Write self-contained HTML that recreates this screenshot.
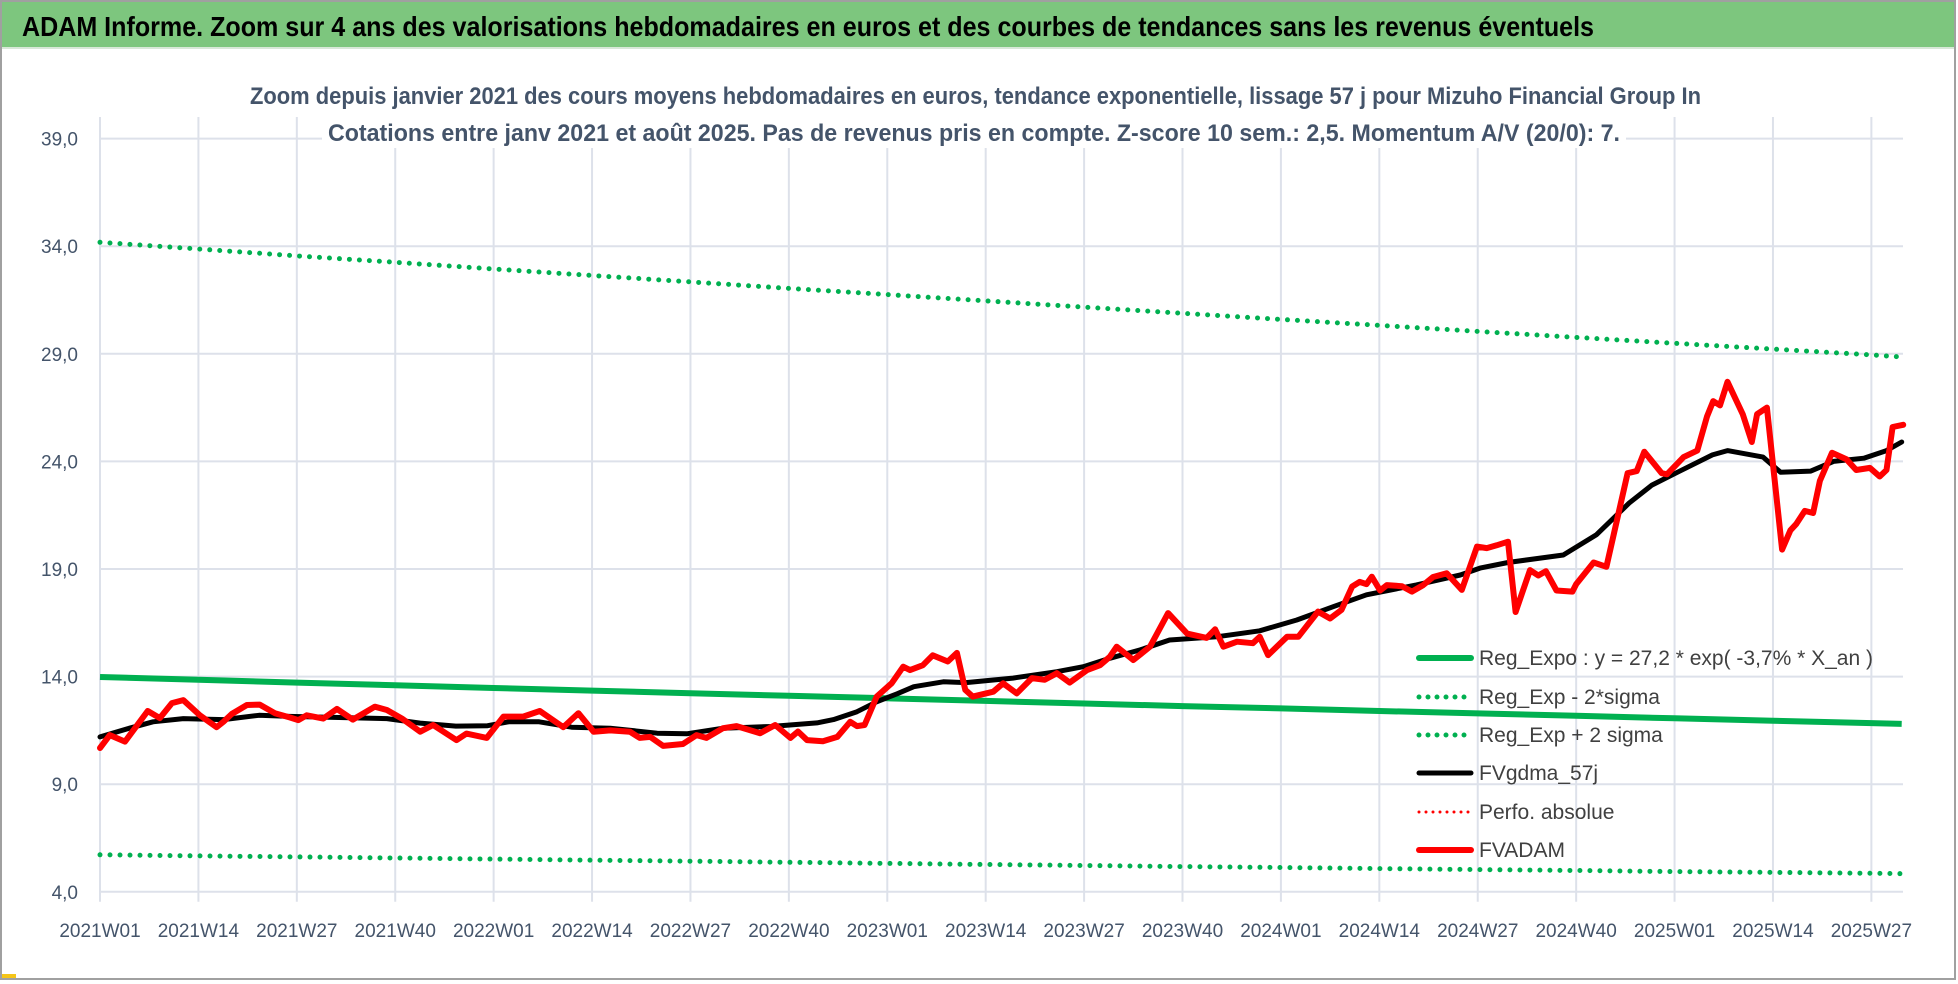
<!DOCTYPE html>
<html><head><meta charset="utf-8"><style>
html,body{margin:0;padding:0;background:#fff;}
svg{display:block;}
text{font-family:"Liberation Sans Narrow","Liberation Sans",sans-serif;}
</style></head><body>
<svg id="chart" width="1958" height="984" viewBox="0 0 1958 984" xmlns="http://www.w3.org/2000/svg">
<rect x="1" y="1" width="1954" height="978" fill="#fff" stroke="#a0a0a0" stroke-width="2"/>
<rect x="2" y="2" width="1952" height="45" fill="#7dc67e"/>
<line x1="2" y1="48" x2="1954" y2="48" stroke="#d8e8d8" stroke-width="2"/>
<text x="22" y="36" font-size="28" font-weight="bold" fill="#000" textLength="1572" lengthAdjust="spacingAndGlyphs">ADAM Informe. Zoom sur 4 ans des valorisations hebdomadaires en euros et des courbes de tendances sans les revenus éventuels</text>
<g id="grid"></g>
<rect x="245" y="78" width="1462" height="34" fill="#fff"/>
<rect x="322" y="114" width="1304" height="34" fill="#fff"/>
<text x="250" y="104" font-size="24" font-weight="bold" fill="#44546a" textLength="1451" lengthAdjust="spacingAndGlyphs">Zoom depuis janvier 2021 des cours moyens hebdomadaires en euros, tendance exponentielle, lissage 57 j pour Mizuho Financial Group In</text>
<text x="328" y="141" font-size="24" font-weight="bold" fill="#44546a" textLength="1292" lengthAdjust="spacingAndGlyphs">Cotations entre janv 2021 et août 2025. Pas de revenus pris en compte. Z-score 10 sem.: 2,5. Momentum A/V (20/0): 7.</text>
<g id="axes"></g>
<g id="series"></g>
<g id="legend"></g>
<rect x="2" y="974" width="14" height="4" fill="#f5c518"/>
</svg>
<script>
const yTicks = [4, 9, 14, 19, 24, 29, 34, 39];
const yTickLabels = ["4,0","9,0","14,0","19,0","24,0","29,0","34,0","39,0"];
const xTickWeeks = [0,13,26,39,52,65,78,91,104,117,130,143,156,169,182,195,208,221,234];
const xTickLabels = ["2021W01","2021W14","2021W27","2021W40","2022W01","2022W14","2022W27","2022W40","2023W01","2023W14","2023W27","2023W40","2024W01","2024W14","2024W27","2024W40","2025W01","2025W14","2025W27"];

const bandWeeks = [0,13,26,39,52,65,78,91,104,117,130,143,156,169,182,195,208,221,234,238];
const regExpo = [13.98,13.85,13.72,13.60,13.47,13.35,13.23,13.11,12.99,12.87,12.75,12.63,12.52,12.40,12.29,12.18,12.06,11.95,11.84,11.80];
const regUpper = [34.18,33.87,33.55,33.25,32.94,32.64,32.34,32.04,31.75,31.46,31.17,30.88,30.60,30.32,30.04,29.76,29.49,29.22,28.95,28.85];
const regLower = [5.72,5.67,5.62,5.57,5.52,5.47,5.42,5.37,5.32,5.27,5.22,5.17,5.13,5.08,5.03,4.99,4.94,4.90,4.86,4.84];

const priceWeeks = [0,1.3,3.3,6.3,7.9,9.5,11,13.2,15.4,16.3,17.4,19.4,21.1,23.1,25.1,26.2,27.3,29.5,31.3,33.4,36.3,37.9,39.9,42.3,44,47.1,48.4,51.1,53.3,55.9,58.1,61.2,63.2,65.2,67.4,70,71.3,72.7,74.4,77,78.8,80.1,82.3,84.1,87.2,89.2,91.2,92.2,93.4,95.5,97.4,99.1,100,101,102.6,104.6,106.1,107,108.7,110,112,113.2,114.3,115.3,118,119.3,121.1,123.1,124.8,126.4,128.1,130.4,132.1,133.4,134.3,136.5,138.7,141.1,143.6,146.2,147.3,148.4,150.2,152.3,153.2,154.3,156.8,158.3,160.9,162.5,164,165.4,166.4,167.3,168,169.1,170,172,173.3,174.8,176.1,177.9,179.9,181.9,183.2,184.5,186,187,188.9,190,191,192.4,194.5,195,197.3,199,201.8,203,204,206.3,207,209.2,211,212.3,213.1,214,215,217,218.2,218.9,220.2,222.2,223.3,224.1,225.2,226.3,227.2,228.8,230.7,232,233.8,235.1,236,236.8,238.2];
const priceValues = [10.68,11.28,10.98,12.4,12.07,12.77,12.91,12.2,11.65,11.9,12.26,12.68,12.7,12.3,12.1,11.98,12.2,12.05,12.5,12.0,12.6,12.45,12.05,11.44,11.75,11.05,11.35,11.15,12.14,12.14,12.4,11.65,12.3,11.44,11.5,11.44,11.15,11.2,10.78,10.87,11.28,11.15,11.6,11.7,11.37,11.75,11.15,11.45,11.05,11.0,11.2,11.9,11.7,11.75,13.07,13.7,14.46,14.3,14.53,14.99,14.7,15.1,13.38,13.07,13.3,13.69,13.22,13.93,13.85,14.16,13.72,14.3,14.53,14.92,15.39,14.77,15.39,16.95,16.0,15.8,16.2,15.39,15.62,15.55,15.85,15.0,15.85,15.85,17.02,16.7,17.1,18.18,18.4,18.3,18.64,18.0,18.25,18.2,17.95,18.25,18.63,18.8,18.03,20.04,19.97,20.1,20.27,17.0,18.95,18.7,18.9,18.0,17.95,18.3,19.3,19.1,23.45,23.55,24.45,23.45,23.4,24.2,24.5,26.1,26.8,26.6,27.7,26.2,24.9,26.2,26.5,19.9,20.8,21.1,21.7,21.6,23.1,24.4,24.1,23.6,23.7,23.3,23.6,25.6,25.7];

const maWeeks = [0,3.9,7,11,16.3,21,25,31.6,37.9,42.3,47,51.2,54,58,62.3,67.4,73.6,77.5,82.3,88.6,94.7,96.9,100,102.6,105.3,107.5,111.4,114.4,120.6,126.4,129.9,133.4,137.4,141.3,147.5,153.2,158.1,162.9,167.3,173.9,179.7,182.3,186,193.3,197.7,202,205,208.4,213,215,219.7,222,226,229,233,236,238];
const maValues = [11.2,11.6,11.9,12.05,12.0,12.2,12.15,12.1,12.05,11.84,11.7,11.72,11.9,11.9,11.65,11.6,11.37,11.34,11.6,11.68,11.85,12.0,12.37,12.83,13.2,13.53,13.76,13.72,13.93,14.23,14.46,14.85,15.24,15.7,15.85,16.13,16.63,17.25,17.8,18.26,18.72,19.04,19.3,19.65,20.6,22.06,22.9,23.5,24.3,24.5,24.2,23.5,23.55,24.0,24.15,24.5,24.9];

const legendLabels = ["Reg_Expo : y = 27,2 * exp( -3,7% *  X_an )","Reg_Exp - 2*sigma","Reg_Exp + 2 sigma","FVgdma_57j","Perfo. absolue","FVADAM"];

const NS = "http://www.w3.org/2000/svg";
const X0 = 100, PXW = 7.57, XR = 1903;
const YTOP = 138.6, PXV = 21.52;
function xs(w){ return X0 + w*PXW; }
function ys(v){ return YTOP + (39 - v)*PXV; }
function mk(tag, attrs, parent){
  const e = document.createElementNS(NS, tag);
  for (const k in attrs) e.setAttribute(k, attrs[k]);
  parent.appendChild(e);
  return e;
}
const grid = document.getElementById('grid');
const axes = document.getElementById('axes');
const series = document.getElementById('series');
const legend = document.getElementById('legend');

yTicks.forEach((t,i)=>{
  const l = mk('line',{x1:X0,x2:XR,y1:ys(t),y2:ys(t),stroke:'#dde1ea','stroke-width':2},grid);
  
  
  const tx = mk('text',{x:X0-22,y:ys(t)+7,'font-size':19,'text-anchor':'end',fill:'#44546a'},axes);
  tx.textContent = yTickLabels[i];
  
  
});
xTickWeeks.forEach((w,i)=>{
  const l = mk('line',{x1:xs(w),x2:xs(w),y1:117,y2:ys(4)+10,stroke:'#dde1ea','stroke-width':2},grid);
  
  
  const tx = mk('text',{x:xs(w),y:937,'font-size':19,'text-anchor':'middle',fill:'#44546a'},axes);
  tx.textContent = xTickLabels[i];
  
  
});

function path(ws, vs){
  return ws.map((w,i)=>(i?'L':'M')+xs(w).toFixed(1)+' '+ys(vs[i]).toFixed(1)).join(' ');
}
const pU = mk('path',{d:path(bandWeeks,regUpper),fill:'none',stroke:'#00b050','stroke-width':5,'stroke-linecap':'round','stroke-dasharray':'0 10'},series);


const pL = mk('path',{d:path(bandWeeks,regLower),fill:'none',stroke:'#00b050','stroke-width':5,'stroke-linecap':'round','stroke-dasharray':'0 10'},series);


const pR = mk('path',{d:path(bandWeeks,regExpo),fill:'none',stroke:'#00b050','stroke-width':6,'stroke-linejoin':'round'},series);


const pM = mk('path',{d:path(maWeeks,maValues),fill:'none',stroke:'#000','stroke-width':5,'stroke-linejoin':'round','stroke-linecap':'round'},series);


const pP = mk('path',{d:path(priceWeeks,priceValues),fill:'none',stroke:'#ff0000','stroke-width':6,'stroke-linejoin':'round','stroke-linecap':'round'},series);



const legY = [658, 697, 735, 773, 812, 850];
const legStyles = [
  {stroke:'#00b050',w:6,dash:null},
  {stroke:'#00b050',w:5,dash:'0 9'},
  {stroke:'#00b050',w:5,dash:'0 9'},
  {stroke:'#000',w:5,dash:null},
  {stroke:'#ff0000',w:3,dash:'0 7'},
  {stroke:'#ff0000',w:6,dash:null}
];
legendLabels.forEach((lab,i)=>{
  const g = mk('g',{},legend);
  
  
  const s = legStyles[i];
  const a = {x1:1419,x2:1471,y1:legY[i],y2:legY[i],stroke:s.stroke,'stroke-width':s.w,'stroke-linecap':'round'};
  if (s.dash) a['stroke-dasharray'] = s.dash;
  const ln = mk('line',a,g);
  
  
  const t = mk('text',{x:1479,y:legY[i]+7,'font-size':21,fill:'#404040'},g);
  t.textContent = lab;
  
  
});
</script>
</body></html>
